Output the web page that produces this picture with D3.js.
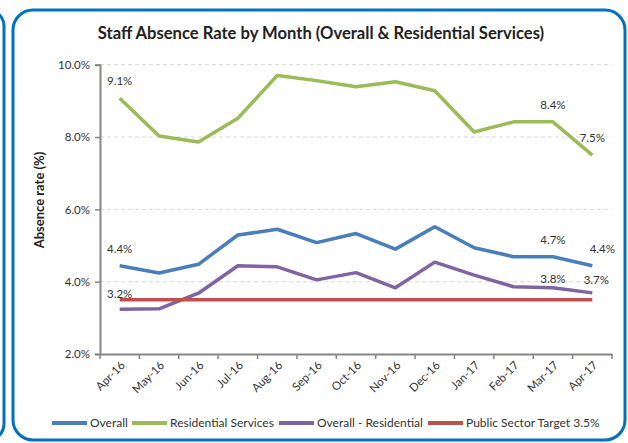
<!DOCTYPE html>
<html><head><meta charset="utf-8">
<script src="https://cdn.jsdelivr.net/npm/d3@7"></script>
<style>body{margin:0;background:#fff}svg{display:block}text{font-family:Lato,"Open Sans",sans-serif}</style>
</head><body>
<svg id="c" width="628" height="443"></svg>
<script>
const months = ["Apr-16","May-16","Jun-16","Jul-16","Aug-16","Sep-16","Oct-16","Nov-16","Dec-16","Jan-17","Feb-17","Mar-17","Apr-17"];
const overall = [4.44,4.24,4.48,5.29,5.45,5.08,5.33,4.90,5.52,4.94,4.69,4.69,4.44];
const residential = [9.07,8.03,7.86,8.52,9.70,9.56,9.39,9.53,9.28,8.14,8.42,8.42,7.50];
const overallMinusRes = [3.24,3.25,3.68,4.44,4.41,4.05,4.25,3.83,4.54,4.18,3.86,3.83,3.69];
const target = [3.5,3.5,3.5,3.5,3.5,3.5,3.5,3.5,3.5,3.5,3.5,3.5,3.5];
const yTicks = [2,4,6,8,10];
const seriesNames = ["Overall","Residential Services","Overall - Residential","Public Sector Target 3.5%"];
const labelled = [[1,0],[1,11],[1,12],[0,0],[0,11],[0,12],[2,0],[2,11],[2,12]];

const series = [overall, residential, overallMinusRes, target];
const colors = ["#4A7EBB","#9BBB59","#8064A2","#C0504D"];
const svg = d3.select("#c");

// panel borders
svg.append("rect").attr("x",-40).attr("y",10).attr("width",44).attr("height",430).attr("rx",16)
  .attr("fill","none").attr("stroke","#0070C0").attr("stroke-width",3);
svg.append("rect").attr("x",13).attr("y",10).attr("width",612).attr("height",430).attr("rx",20)
  .attr("fill","none").attr("stroke","#0070C0").attr("stroke-width",3);

const L=100,R=612,T=64.7,B=354;
const x = d3.scaleBand().domain(months).range([L,R]);
const y = d3.scaleLinear().domain([2,10]).range([B,T]);

// gridlines
svg.append("g").selectAll("line").data(yTicks.filter(t=>t>2)).join("line")
  .attr("x1",L).attr("x2",R).attr("y1",d=>y(d)).attr("y2",d=>y(d))
  .attr("stroke","#d9d9d9").attr("stroke-width",1).attr("stroke-dasharray","4,3");

// y axis
const ya = svg.append("g").attr("transform",`translate(${L},0)`)
  .call(d3.axisLeft(y).tickValues(yTicks).tickSize(5).tickFormat(d=>d.toFixed(1)+"%"));
ya.select(".domain").attr("stroke","#868686").attr("stroke-width",2);
ya.selectAll(".tick line").attr("stroke","#868686").attr("stroke-width",1.5);
ya.selectAll("text").attr("font-size",11.5).attr("fill","#333").attr("x",-10);

// x axis
const xa = svg.append("g").attr("transform",`translate(0,${B})`)
  .call(d3.axisBottom(x).tickSize(0).tickSizeOuter(0));
xa.select(".domain").attr("stroke","#868686").attr("stroke-width",2);
xa.selectAll("text").attr("font-size",11.5).attr("fill","#333")
  .attr("text-anchor","end").attr("dy",0).attr("y",0)
  .attr("transform","translate(6,12) rotate(-45)");
svg.append("g").selectAll("line").data(d3.range(months.length+1)).join("line")
  .attr("x1",i=>L+i*x.step()).attr("x2",i=>L+i*x.step()).attr("y1",B).attr("y2",B+5)
  .attr("stroke","#868686").attr("stroke-width",1.5);

// lines
const line = d3.line().x((d,i)=>x(months[i])+x.bandwidth()/2).y(d=>y(d));
series.forEach((s,k)=>{
  svg.append("path").datum(s).attr("d",line).attr("fill","none")
    .attr("stroke",colors[k]).attr("stroke-width",3.5).attr("stroke-linejoin","round");
});

// data labels
const adj = {"2,0":[0,2],"2,11":[0,8],"2,12":[4,4],"0,12":[10,0],"1,12":[0,0]};
svg.append("g").selectAll("text").data(labelled).join("text")
  .attr("x",d=>x(months[d[1]])+x.bandwidth()/2+((adj[d.join()]||[0,0])[0]))
  .attr("y",d=>y(series[d[0]][d[1]])-13+((adj[d.join()]||[0,0])[1]))
  .attr("text-anchor","middle").attr("font-size",11.5).attr("fill","#333")
  .text(d=>series[d[0]][d[1]].toFixed(1)+"%");

// title
svg.append("text").attr("x",321).attr("y",39).attr("text-anchor","middle")
  .attr("font-size",16.6).attr("font-weight","bold").attr("fill","#222")
  .text("Staff Absence Rate by Month (Overall & Residential Services)");

// y label
svg.append("text").attr("transform","translate(44,200) rotate(-90)").attr("text-anchor","middle")
  .attr("font-size",13).attr("font-weight","bold").attr("fill","#222").text("Absence rate (%)");

// legend
const lg = svg.append("g");
const lx = [52,132,279,428];
seriesNames.forEach((n,k)=>{
  lg.append("line").attr("x1",lx[k]).attr("x2",lx[k]+35).attr("y1",423).attr("y2",423)
    .attr("stroke",colors[k]).attr("stroke-width",4);
  lg.append("text").attr("x",lx[k]+38).attr("y",427).attr("font-size",12).attr("fill","#333").text(n);
});
</script>
</body></html>
